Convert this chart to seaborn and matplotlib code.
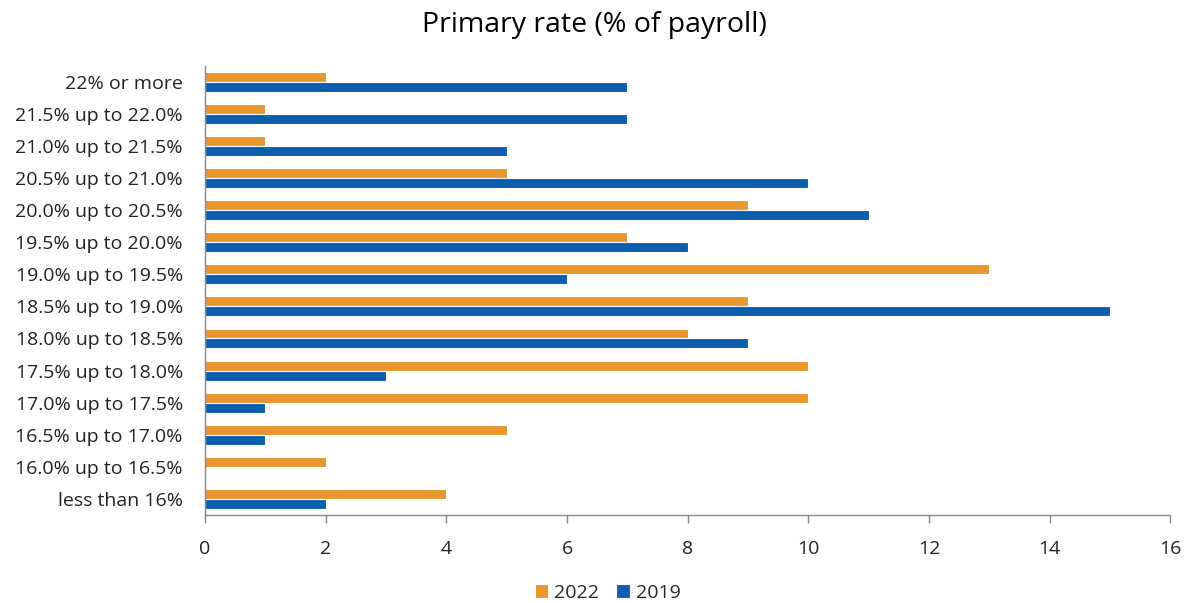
import matplotlib
matplotlib.use("Agg")
import matplotlib.pyplot as plt
import seaborn as sns
import pandas as pd

categories = [
    "22% or more", "21.5% up to 22.0%", "21.0% up to 21.5%", "20.5% up to 21.0%",
    "20.0% up to 20.5%", "19.5% up to 20.0%", "19.0% up to 19.5%", "18.5% up to 19.0%",
    "18.0% up to 18.5%", "17.5% up to 18.0%", "17.0% up to 17.5%", "16.5% up to 17.0%",
    "16.0% up to 16.5%", "less than 16%",
]
values_2022 = [2, 1, 1, 5, 9, 7, 13, 9, 8, 10, 10, 5, 2, 4]
values_2019 = [7, 7, 5, 10, 11, 8, 6, 15, 9, 3, 1, 1, 0, 2]
series = ["2022", "2019"]
x_ticks = [0, 2, 4, 6, 8, 10, 12, 14, 16]

df = pd.DataFrame({
    "band": categories * 2,
    "year": ["2022"] * len(categories) + ["2019"] * len(categories),
    "count": values_2022 + values_2019,
})

sns.set_theme(style="white")
plt.rcParams["font.family"] = ["Open Sans", "DejaVu Sans"]

palette = {"2022": "#E8962E", "2019": "#0C5FAC"}

fig = plt.figure(figsize=(11.89, 6.03), dpi=100)
ax = fig.add_axes([0.1724, 0.146, 0.812, 0.745])

sns.barplot(data=df, y="band", x="count", hue="year", order=categories,
            hue_order=series, palette=palette, orient="h", width=0.62,
            edgecolor="white", linewidth=0.8, saturation=1, ax=ax)

ax.set_xlim(0, 16)
ax.set_xticks(x_ticks)
ax.set_xticklabels([str(t) for t in x_ticks], fontsize=14, color="#222222")
ax.tick_params(axis="y", labelsize=14, labelcolor="#222222", length=0, pad=16)
ax.tick_params(axis="x", direction="out", length=6, width=1, color="#888888",
               bottom=True, pad=12)
ax.set_xlabel("")
ax.set_ylabel("")

for side in ["top", "right"]:
    ax.spines[side].set_visible(False)
for side in ["left", "bottom"]:
    ax.spines[side].set_color("#888888")
    ax.spines[side].set_linewidth(1)

handles, labels = ax.get_legend_handles_labels()
ax.get_legend().remove()
fig.legend(handles, labels, loc="center", bbox_to_anchor=(0.511, 0.017), ncol=2,
           frameon=False, fontsize=14, handlelength=0.7, handleheight=0.7,
           handletextpad=0.3, columnspacing=0.9)

fig.suptitle("Primary rate (% of payroll)", fontsize=20.5, y=0.982, color="#000000")

fig.savefig("out.png", dpi=100, facecolor="white")
